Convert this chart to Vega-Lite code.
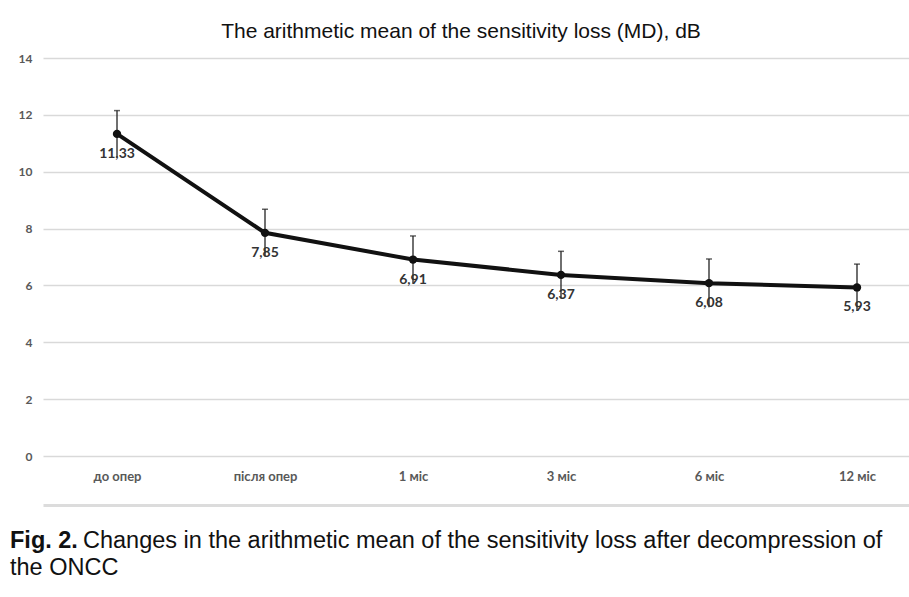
{
  "$schema": "https://vega.github.io/schema/vega-lite/v6.json",
  "background": "white",
  "padding": {"left": 10, "top": 21, "right": 0, "bottom": 0},
  "bounds": "flush",
  "spacing": 71,
  "config": {
    "view": {"stroke": null},
    "locale": {"number": {"decimal": ",", "thousands": " ", "grouping": [3], "currency": ["", ""]}},
    "font": "Liberation Sans"
  },
  "vconcat": [
    {
      "width": 866,
      "height": 398,
      "title": {
        "text": "The arithmetic mean of the sensitivity loss (MD), dB",
        "font": "Liberation Sans",
        "fontSize": 21,
        "fontWeight": "normal",
        "color": "#111111",
        "anchor": "middle",
        "dx": -15,
        "offset": 10
      },
      "data": {
        "values": [
          {"period": "до опер", "mean": 11.33, "lo": 10.51, "hi": 12.15},
          {"period": "після опер", "mean": 7.85, "lo": 7.02, "hi": 8.68},
          {"period": "1 міс", "mean": 6.91, "lo": 6.08, "hi": 7.74},
          {"period": "3 міс", "mean": 6.37, "lo": 5.54, "hi": 7.2},
          {"period": "6 міс", "mean": 6.08, "lo": 5.23, "hi": 6.93},
          {"period": "12 міс", "mean": 5.93, "lo": 5.11, "hi": 6.75}
        ]
      },
      "encoding": {
        "x": {
          "field": "period",
          "type": "ordinal",
          "sort": null,
          "scale": {"type": "point", "padding": 0.4257, "align": 0.5873},
          "axis": {
            "title": null,
            "labelAngle": 0,
            "domain": false,
            "ticks": false,
            "grid": false,
            "labelPadding": 14,
            "labelFont": "Lato",
            "labelFontSize": 13,
            "labelFontWeight": "bold",
            "labelColor": "#595959"
          }
        }
      },
      "layer": [
        {
          "mark": {"type": "rule", "color": "#222222", "strokeWidth": 1.3},
          "encoding": {
            "y": {
              "field": "lo",
              "type": "quantitative",
              "scale": {"domain": [0, 14], "nice": false},
              "axis": {
                "title": null,
                "values": [0, 2, 4, 6, 8, 10, 12, 14],
                "domain": false,
                "ticks": false,
                "grid": true,
                "gridColor": "#d9d9d9",
                "gridWidth": 1.6,
                "labelPadding": 11,
                "labelFont": "Lato",
                "labelFontSize": 12,
                "labelFontWeight": "bold",
                "labelColor": "#595959"
              }
            },
            "y2": {"field": "hi"}
          }
        },
        {
          "mark": {"type": "tick", "orient": "horizontal", "color": "#222222", "size": 6, "thickness": 1.5},
          "encoding": {"y": {"field": "hi", "type": "quantitative"}}
        },
        {
          "mark": {"type": "line", "color": "#111111", "strokeWidth": 4},
          "encoding": {"y": {"field": "mean", "type": "quantitative"}}
        },
        {
          "mark": {"type": "circle", "color": "#111111", "opacity": 1, "size": 70},
          "encoding": {"y": {"field": "mean", "type": "quantitative"}}
        },
        {
          "mark": {"type": "text", "dy": 20, "font": "Lato", "fontSize": 14, "fontWeight": "bold", "color": "#333333"},
          "encoding": {
            "y": {"field": "mean", "type": "quantitative"},
            "text": {"field": "mean", "type": "quantitative", "format": ".2f"}
          }
        }
      ]
    },
    {
      "width": 866,
      "height": 55,
      "data": {
        "values": [
          {"seg": "Fig. 2.", "line": 1, "kind": "bold"},
          {"seg": "Changes in the arithmetic mean of the sensitivity loss after decompression of", "line": 1, "kind": "plain1"},
          {"seg": "the ONCC", "line": 2, "kind": "plain2"}
        ]
      },
      "encoding": {
        "x": {
          "datum": 0,
          "type": "quantitative",
          "scale": {"domain": [0, 1]},
          "axis": {
            "orient": "top",
            "offset": 22,
            "labels": false,
            "ticks": false,
            "grid": false,
            "title": null,
            "domain": true,
            "domainColor": "#dcdcdc",
            "domainWidth": 3
          }
        },
        "y": {"field": "line", "type": "ordinal", "axis": null, "scale": {"type": "point", "padding": 0.5}},
        "text": {"field": "seg"}
      },
      "layer": [
        {
          "transform": [{"filter": "datum.kind === 'bold'"}],
          "mark": {"type": "text", "align": "left", "baseline": "middle", "dx": -33, "font": "Liberation Sans", "fontSize": 23.5, "fontWeight": "bold", "color": "#111111"}
        },
        {
          "transform": [{"filter": "datum.kind === 'plain1'"}],
          "mark": {"type": "text", "align": "left", "baseline": "middle", "dx": 40, "font": "Liberation Sans", "fontSize": 23.5, "color": "#111111"}
        },
        {
          "transform": [{"filter": "datum.kind === 'plain2'"}],
          "mark": {"type": "text", "align": "left", "baseline": "middle", "dx": -33, "font": "Liberation Sans", "fontSize": 23.5, "color": "#111111"}
        }
      ]
    }
  ]
}
